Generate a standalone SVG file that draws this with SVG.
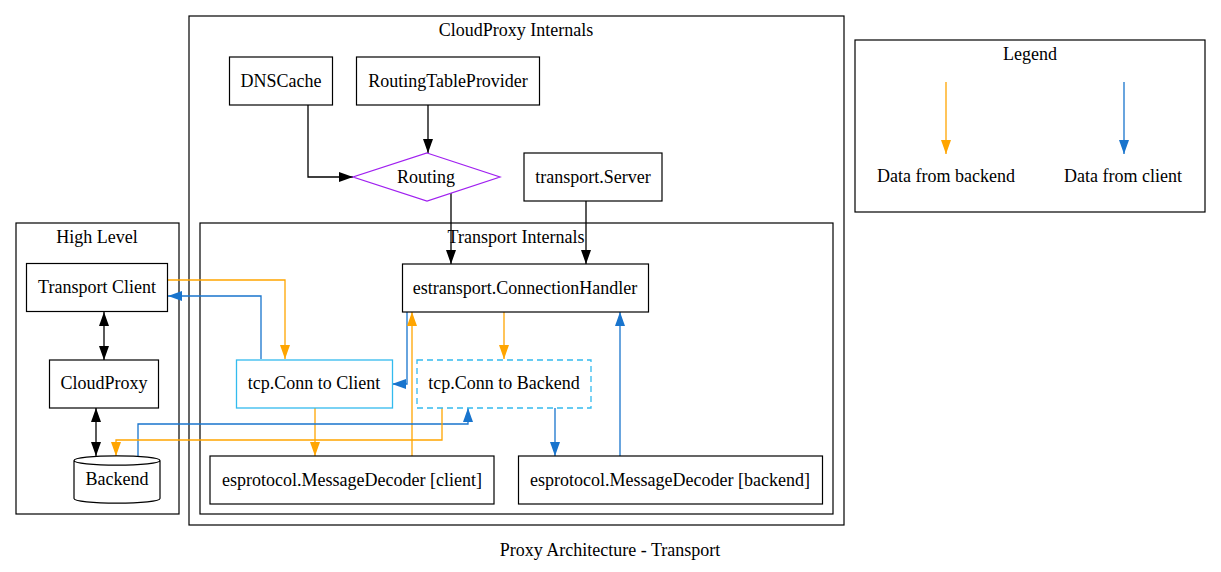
<svg xmlns="http://www.w3.org/2000/svg" width="1221" height="572" viewBox="0 0 1221 572">
<style>
text{font-family:"Liberation Serif","Times New Roman",serif;font-size:18px;fill:#000;text-anchor:middle}
.cl{fill:none;stroke:#000;stroke-width:1.2}
.nd{fill:#fff;stroke:#000;stroke-width:1.2}
.tcp{fill:#fff;stroke:#33bbee;stroke-width:1.3}
.e{fill:none;stroke-width:1.3}
.k{stroke:#000}
.o{stroke:#ffa500}
.b{stroke:#1874cd}
</style>
<defs>
<marker id="ak" viewBox="0 0 14 10" markerUnits="userSpaceOnUse" markerWidth="14" markerHeight="10" refX="14" refY="5" orient="auto-start-reverse"><path d="M0,0 L14,5 L0,10 z" fill="#000"/></marker>
<marker id="ao" viewBox="0 0 14 10" markerUnits="userSpaceOnUse" markerWidth="14" markerHeight="10" refX="14" refY="5" orient="auto"><path d="M0,0 L14,5 L0,10 z" fill="#ffa500"/></marker>
<marker id="ab" viewBox="0 0 14 10" markerUnits="userSpaceOnUse" markerWidth="14" markerHeight="10" refX="14" refY="5" orient="auto"><path d="M0,0 L14,5 L0,10 z" fill="#1874cd"/></marker>
</defs>
<rect width="1221" height="572" fill="#fff"/>
<g id="clusters">
<g id="cluster_high"><rect class="cl" x="16" y="223" width="163" height="291"/><text x="97" y="243">High Level</text></g>
<g id="cluster_cp"><rect class="cl" x="189" y="16" width="655" height="509"/><text x="516" y="36">CloudProxy Internals</text></g>
<g id="cluster_transport"><rect class="cl" x="200" y="223" width="633" height="291"/><text x="516" y="243">Transport Internals</text></g>
<g id="cluster_legend"><rect class="cl" x="855" y="40" width="350" height="172"/><text x="1030" y="60">Legend</text></g>
</g>
<g id="connectors">
<path class="e k" d="M308,105 V177 H353" marker-end="url(#ak)"/>
<path class="e k" d="M428,105 V153" marker-end="url(#ak)"/>
<path class="e k" d="M451,193 V264" marker-end="url(#ak)"/>
<path class="e k" d="M586,201 V264" marker-end="url(#ak)"/>
<path class="e k" d="M104,312 V360" marker-start="url(#ak)" marker-end="url(#ak)"/>
<path class="e k" d="M96,408 V456" marker-start="url(#ak)" marker-end="url(#ak)"/>
<path class="e o" d="M168,280 H285 V359" marker-end="url(#ao)"/>
<path class="e b" d="M261,359 V296 H168" marker-end="url(#ab)"/>
<path class="e b" d="M407,312 V384 H392" marker-end="url(#ab)"/>
<path class="e o" d="M412,456 V312" marker-end="url(#ao)"/>
<path class="e o" d="M504,312 V359" marker-end="url(#ao)"/>
<path class="e o" d="M315,408 V456" marker-end="url(#ao)"/>
<path class="e b" d="M138,460 V424 H468 V408" marker-end="url(#ab)"/>
<path class="e o" d="M442,408 V440 H116 V456" marker-end="url(#ao)"/>
<path class="e b" d="M555,408 V456" marker-end="url(#ab)"/>
<path class="e b" d="M620,456 V312" marker-end="url(#ab)"/>
<path class="e o" d="M946,82 V154" marker-end="url(#ao)"/>
<path class="e b" d="M1124,82 V154" marker-end="url(#ab)"/>
</g>
<g id="n_transport_client"><rect class="nd" x="26.5" y="263.5" width="141" height="48"/><text x="97" y="293">Transport Client</text></g>
<g id="n_cloudproxy"><rect class="nd" x="49.5" y="360" width="109" height="48"/><text x="104" y="389">CloudProxy</text></g>
<g id="n_backend"><path class="nd" d="M74,460.5 A43,4.7 0 0 0 160,460.5 A43,4.7 0 0 0 74,460.5 V498.5 A43,4.7 0 0 0 160,498.5 V460.5"/><text x="117" y="485">Backend</text></g>
<g id="n_dnscache"><rect class="nd" x="229.5" y="57" width="103" height="48"/><text x="281" y="87">DNSCache</text></g>
<g id="n_rtp"><rect class="nd" x="356.5" y="57" width="183" height="48"/><text x="448" y="87">RoutingTableProvider</text></g>
<g id="n_routing"><polygon points="427,153 500,177 427,201 353,177" fill="#fff" stroke="#a020f0" stroke-width="1.2"/><text x="426" y="183">Routing</text></g>
<g id="n_server"><rect class="nd" x="524" y="153" width="138" height="48"/><text x="593" y="183">transport.Server</text></g>
<g id="n_connhandler"><rect class="nd" x="402.5" y="264" width="246" height="48"/><text x="525" y="294">estransport.ConnectionHandler</text></g>
<g id="n_tcp_client"><rect class="tcp" x="236.5" y="360" width="156" height="48"/><text x="314" y="389">tcp.Conn to Client</text></g>
<g id="n_tcp_backend"><rect class="tcp" x="417" y="360" width="174" height="48" stroke-dasharray="6,4"/><text x="504" y="389">tcp.Conn to Backend</text></g>
<g id="n_md_client"><rect class="nd" x="210" y="456" width="284" height="48"/><text x="352" y="486">esprotocol.MessageDecoder [client]</text></g>
<g id="n_md_backend"><rect class="nd" x="518.5" y="456" width="304" height="48"/><text x="670" y="486">esprotocol.MessageDecoder [backend]</text></g>
<g id="legend_labels"><text x="946" y="182">Data from backend</text><text x="1123" y="182">Data from client</text></g>
<text x="610" y="556">Proxy Architecture - Transport</text>
</svg>
